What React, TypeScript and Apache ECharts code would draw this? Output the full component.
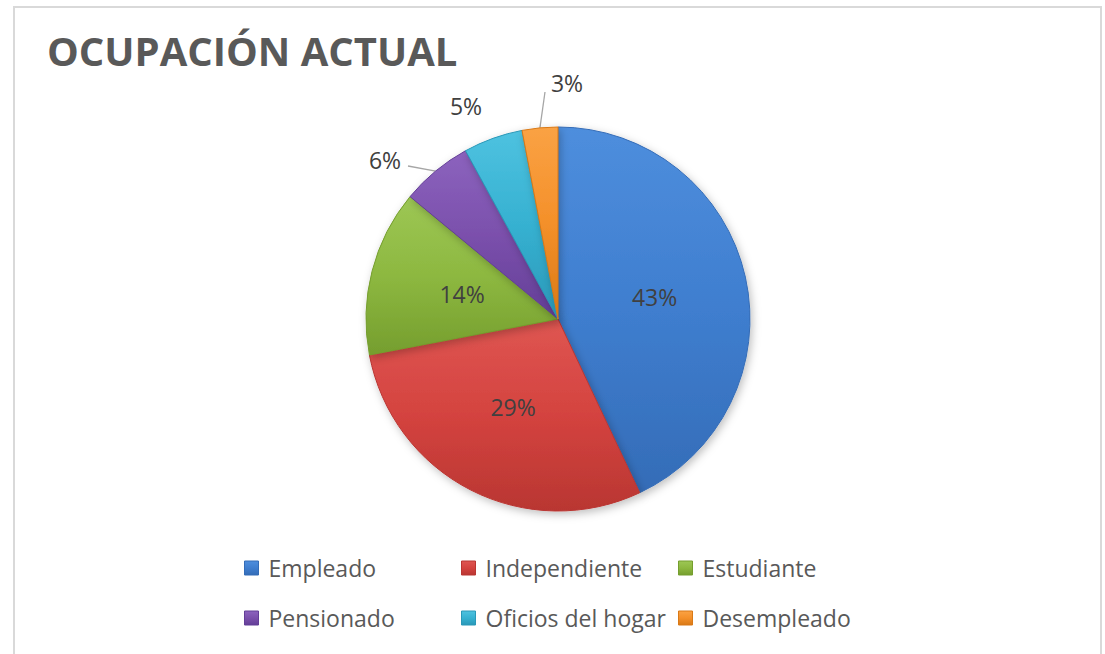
import React, { useEffect, useRef } from "react";
import * as echarts from "echarts";

const categories = ["Empleado", "Independiente", "Estudiante", "Pensionado", "Oficios del hogar", "Desempleado"];
const values = [43, 29, 14, 6, 5, 3];
const baseColors = ["#3F7ECF", "#D4433F", "#8DB840", "#7B50AC", "#36B1D1", "#F4902A"];
const darkColors = ["#346CB7", "#B93632", "#759E2E", "#633E97", "#2A98B8", "#D97916"];
const lightColors = ["#4E8EDD", "#DF5652", "#9DC755", "#8C63BE", "#4EC2E0", "#FAA244"];
const titleText = "OCUPACIÓN ACTUAL";

const FONT = "'Open Sans', 'Noto Sans', sans-serif";

function grad(i: number) {
  return new echarts.graphic.LinearGradient(0, 0, 0, 1, [
    { offset: 0, color: lightColors[i] },
    { offset: 0.5, color: baseColors[i] },
    { offset: 1, color: darkColors[i] },
  ]);
}

// label placements (styling) for outside labels
const outsideLabelPos: Record<number, [number, number]> = {
  3: [385, 160],
  4: [466, 106],
  5: [567, 83],
};
// end points of leader lines (styling)
const leaderEnd: Record<number, [number, number]> = {
  3: [408, 166],
  5: [545, 92],
};

const legendLeft = [239, 456, 673, 239, 456, 673];
const legendTop = [549, 549, 549, 599, 599, 599];

export default function App() {
  const ref = useRef<HTMLDivElement>(null);
  useEffect(() => {
    if (!ref.current) return;
    const chart = echarts.init(ref.current, null, { renderer: "svg" });
    const data = categories.map((name, i) => {
      const outside = i >= 3;
      return {
        name,
        value: values[i],
        itemStyle: { color: grad(i), borderColor: darkColors[i], borderWidth: 1 },
        label: outside
          ? { position: "outside" as const }
          : { position: "inside" as const },
        labelLine: { show: i === 3 || i === 5, lineStyle: { color: "#A6A6A6", width: 1.3 } },
      };
    });
    chart.setOption({
      animation: false,
      backgroundColor: "#ffffff",
      title: {
        text: titleText,
        left: 42,
        top: 20,
        textStyle: { fontFamily: FONT, fontWeight: "bold", fontSize: 40, color: "#595959", lineHeight: 50 },
      },
      graphic: [
        {
          type: "polyline",
          shape: { points: [[14, 660], [14, 7], [1101, 7], [1101, 660]] },
          style: { stroke: "#D9D9D9", lineWidth: 2, fill: "none" },
          z: -1,
        },
      ],
      legend: categories.map((name, i) => ({
        data: [
          {
            name,
            icon: "rect",
            itemStyle: { color: grad(i), borderColor: darkColors[i], borderWidth: 1 },
          },
        ],
        left: legendLeft[i],
        top: legendTop[i],
        itemWidth: 14,
        itemHeight: 14,
        itemGap: 0,
        selectedMode: false,
        textStyle: { fontFamily: FONT, fontSize: 23, color: "#595959", lineHeight: 28, padding: [0, 0, 0, 5] },
      })),
      series: [
        {
          type: "pie",
          center: [558, 319],
          radius: 192,
          startAngle: 90,
          clockwise: true,
          data,
          label: {
            formatter: "{d}%",
            fontFamily: FONT,
            fontSize: 23,
            color: "#404040",
          },
          labelLayout: (params: any) => {
            const p = outsideLabelPos[params.dataIndex];
            if (!p) return {};
            const out: any = { x: p[0], y: p[1], align: "center", verticalAlign: "middle" };
            const e = leaderEnd[params.dataIndex];
            if (e && params.labelLinePoints && params.labelLinePoints.length) {
              out.labelLinePoints = [params.labelLinePoints[0], e];
            }
            return out;
          },
          itemStyle: {
            shadowBlur: 8,
            shadowOffsetX: 2,
            shadowOffsetY: 3,
            shadowColor: "rgba(0,0,0,0.25)",
          },
          emphasis: { disabled: true },
        },
      ],
    });
    return () => chart.dispose();
  }, []);
  return (
    <div
      ref={ref}
      style={{ position: "fixed", left: 0, top: 0, width: 1105, height: 654 }}
    />
  );
}
